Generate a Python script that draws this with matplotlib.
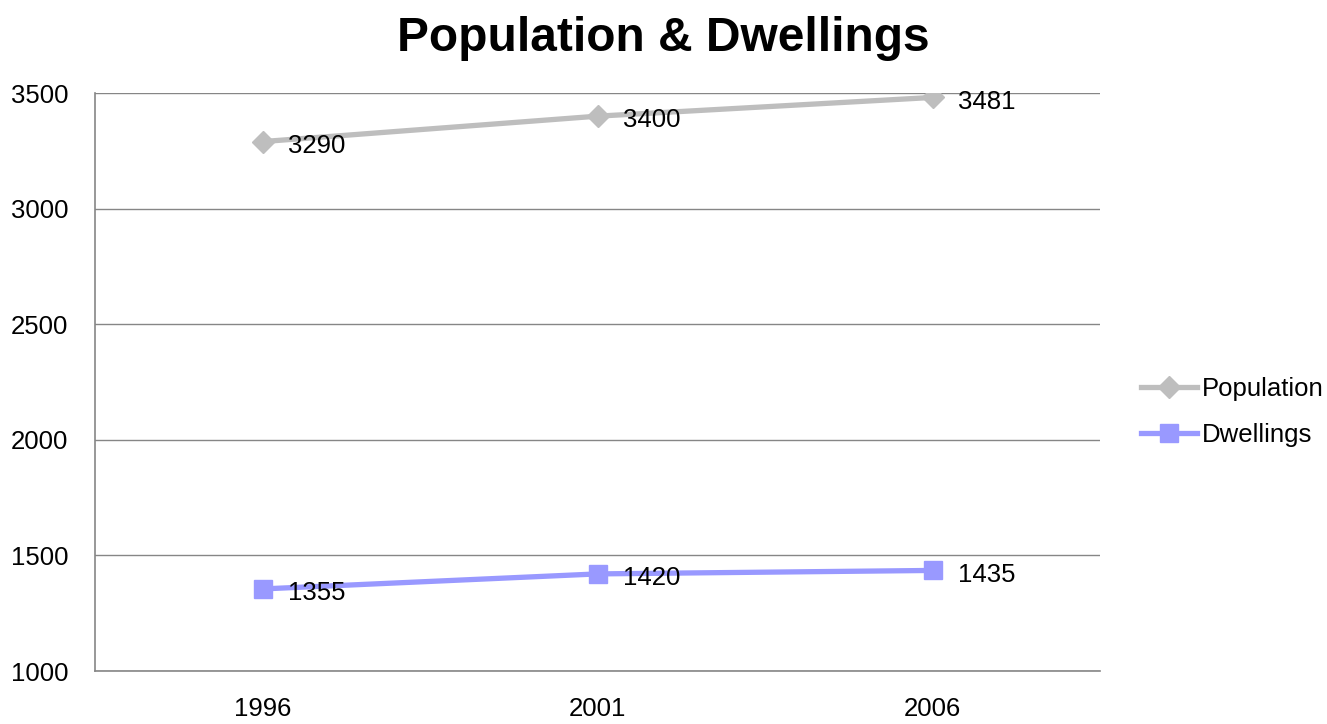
import matplotlib
matplotlib.use('Agg')
import matplotlib.pyplot as plt

years = ['1996', '2001', '2006']
population = [3290, 3400, 3481]
dwellings = [1355, 1420, 1435]

plt.rcParams['font.family'] = ['Liberation Sans', 'DejaVu Sans']

fig = plt.figure(figsize=(13.27, 7.24), dpi=100)
ax = fig.add_axes([0.0716, 0.0732, 0.7575, 0.7983])

x = list(range(len(years)))
ax.plot(x, population, color='#BEBEBE', lw=3.8, marker='D', ms=11,
        label='Population', zorder=3)
ax.plot(x, dwellings, color='#9999FF', lw=3.8, marker='s', ms=13,
        label='Dwellings', zorder=3)

for xi, v in zip(x, population):
    ax.annotate(str(v), (xi, v), xytext=(18, -3), textcoords='offset points',
                va='center', ha='left', fontsize=18.5, zorder=4)
for xi, v in zip(x, dwellings):
    ax.annotate(str(v), (xi, v), xytext=(18, -3), textcoords='offset points',
                va='center', ha='left', fontsize=18.5, zorder=4)

ax.set_xlim(-0.5, 2.5)
ax.set_ylim(1000, 3500)
ax.set_yticks(range(1000, 3501, 500))
ax.set_xticks(x)
ax.set_xticklabels(years)
ax.tick_params(length=0, labelsize=18.5)
ax.tick_params(axis='x', pad=19)
ax.tick_params(axis='y', pad=19)
ax.grid(axis='y', color='#868686', lw=1)
ax.set_axisbelow(True)
for side in ['top', 'right']:
    ax.spines[side].set_visible(False)
for side in ['left', 'bottom']:
    ax.spines[side].set_color('#868686')
    ax.spines[side].set_linewidth(1.2)

fig.suptitle('Population & Dwellings', x=0.5, y=0.978, fontsize=34.5,
             fontweight='bold')

ax.legend(loc='center left', bbox_to_anchor=(1.018, 0.448), frameon=False,
          fontsize=18.5, handlelength=2.15, handletextpad=0.2,
          labelspacing=0.85)

fig.savefig('out.png', dpi=100)
